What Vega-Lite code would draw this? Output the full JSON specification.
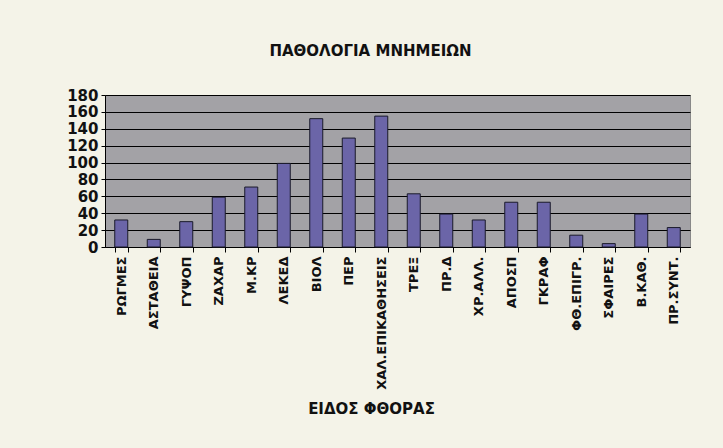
{
  "$schema": "https://vega.github.io/schema/vega-lite/v6.json",
  "autosize": {"type": "none"},
  "width": 585,
  "height": 152,
  "padding": {"left": 105, "top": 95, "right": 33, "bottom": 201},
  "background": "#f4f3e8",
  "title": {
    "text": "ΠΑΘΟΛΟΓΙΑ ΜΝΗΜΕΙΩΝ",
    "font": "DejaVu Sans",
    "fontSize": 15,
    "fontWeight": "bold",
    "color": "#111111",
    "anchor": "middle",
    "dx": -27,
    "offset": 29
  },
  "data": {
    "values": [
      {"kind": "ΡΩΓΜΕΣ", "count": 32},
      {"kind": "ΑΣΤΑΘΕΙΑ", "count": 9},
      {"kind": "ΓΥΨΟΠ", "count": 30},
      {"kind": "ΖΑΧΑΡ", "count": 59},
      {"kind": "Μ.ΚΡ", "count": 71},
      {"kind": "ΛΕΚΕΔ", "count": 99},
      {"kind": "ΒΙΟΛ", "count": 152},
      {"kind": "ΠΕΡ", "count": 129},
      {"kind": "ΧΑΛ.ΕΠΙΚΑΘΗΣΕΙΣ", "count": 155},
      {"kind": "ΤΡΕΞ", "count": 63},
      {"kind": "ΠΡ.Δ", "count": 39},
      {"kind": "ΧΡ.ΑΛΛ.", "count": 32},
      {"kind": "ΑΠΟΣΠ", "count": 53},
      {"kind": "ΓΚΡΑΦ", "count": 53},
      {"kind": "ΦΘ.ΕΠΙΓΡ.", "count": 14},
      {"kind": "ΣΦΑΙΡΕΣ", "count": 4},
      {"kind": "Β.ΚΑΘ.", "count": 39},
      {"kind": "ΠΡ.ΣΥΝΤ.", "count": 23}
    ]
  },
  "mark": {"type": "bar", "color": "#6b65a8", "stroke": "#1a1a2a", "strokeWidth": 1},
  "encoding": {
    "x": {
      "field": "kind",
      "type": "nominal",
      "sort": null,
      "scale": {"paddingInner": 0.6, "paddingOuter": 0.3},
      "axis": {
        "title": "ΕΙΔΟΣ ΦΘΟΡΑΣ",
        "titleFont": "DejaVu Sans",
        "titleFontSize": 15,
        "titleFontWeight": "bold",
        "titleColor": "#111111",
        "titlePadding": 12,
        "titleX": 266,
        "labelAngle": -90,
        "labelFont": "DejaVu Sans",
        "labelFontSize": 13,
        "labelFontWeight": "bold",
        "labelColor": "#111111",
        "labelPadding": 4,
        "tickBand": "extent",
        "tickColor": "#000000",
        "tickSize": 5,
        "domainColor": "#000000",
        "grid": false
      }
    },
    "y": {
      "field": "count",
      "type": "quantitative",
      "scale": {"domain": [0, 180]},
      "axis": {
        "title": null,
        "values": [0, 20, 40, 60, 80, 100, 120, 140, 160, 180],
        "labelFont": "DejaVu Sans",
        "labelFontSize": 15,
        "labelFontWeight": "bold",
        "labelColor": "#111111",
        "labelPadding": 3,
        "tickColor": "#000000",
        "tickSize": 4,
        "domainColor": "#000000",
        "grid": true,
        "gridColor": "#000000",
        "gridWidth": 1.2
      }
    }
  },
  "config": {
    "view": {"fill": "#a3a2a6", "stroke": "#888888"}
  }
}
